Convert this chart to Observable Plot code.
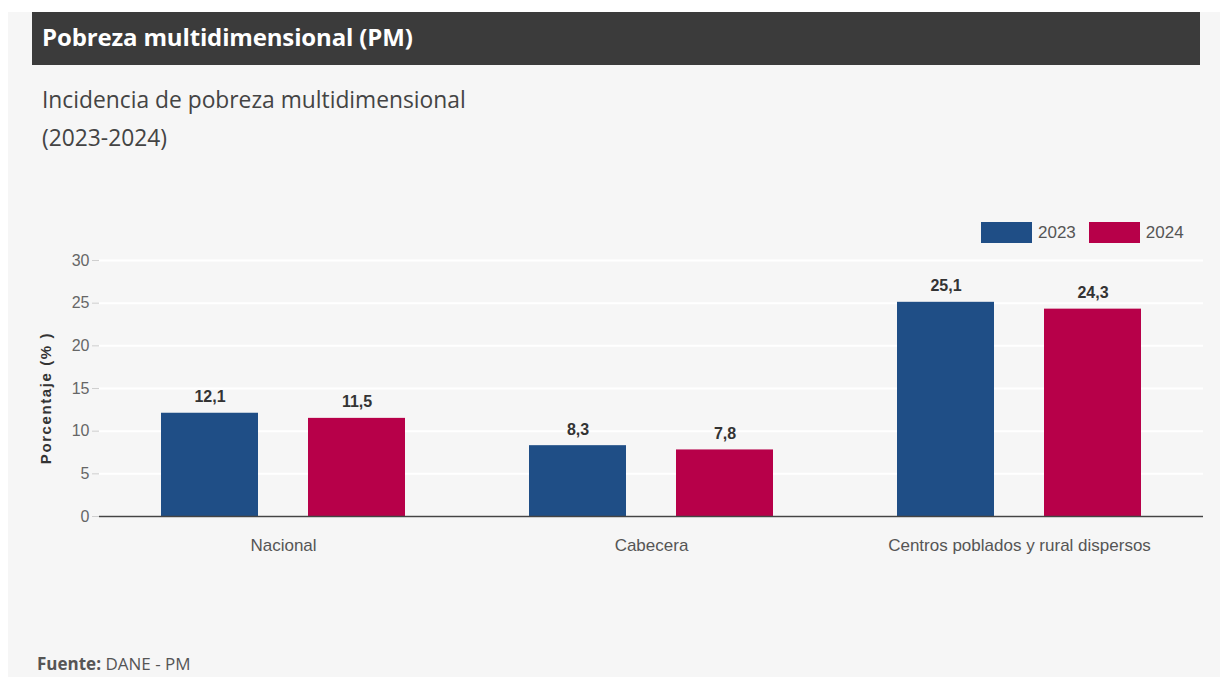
<!DOCTYPE html>
<html>
<head>
<meta charset="utf-8">
<script src="https://cdn.jsdelivr.net/npm/d3@7"></script>
<script src="https://cdn.jsdelivr.net/npm/@observablehq/plot@0.6"></script>
<style>
  html, body { margin: 0; padding: 0; width: 1220px; height: 677px; overflow: hidden; background: #ffffff; }
  #panel { position: absolute; left: 8px; top: 12px; width: 1212px; height: 665px; background: #f6f6f6; }
  #header { position: absolute; left: 32px; top: 12px; width: 1168px; height: 53px; background: #3b3b3b; }
  #title { position: absolute; left: 42px; top: 22px; font-family: "Open Sans", sans-serif; font-weight: 700; font-size: 24px; color: #ffffff; line-height: 30px; white-space: nowrap; letter-spacing: -0.15px; }
  #subtitle { position: absolute; left: 42px; top: 81px; font-family: "Open Sans", sans-serif; font-size: 22.8px; color: #444; line-height: 38px; letter-spacing: 0px; }
  #legend { position: absolute; left: 981px; top: 222px; font-family: "Liberation Sans", Arial, sans-serif; font-size: 17px; color: #555; display: flex; align-items: center; }
  .sw { width: 51px; height: 21px; display: inline-block; margin-right: 6px; }
  .lt { margin-right: 13px; }
  #ylabel { position: absolute; left: 45px; top: 398px; transform: translate(-50%, -50%) rotate(-90deg); font-family: "Liberation Sans", Arial, sans-serif; font-weight: 700; font-size: 15px; letter-spacing: 1.6px; color: #333; white-space: nowrap; }
  #chart { position: absolute; left: 0px; top: 250px; }
  #source { position: absolute; left: 37px; top: 654px; font-family: "Open Sans", sans-serif; font-size: 17px; color: #555; line-height: 20px; letter-spacing: 0px; }
</style>
</head>
<body>
<div id="panel"></div>
<div id="header"></div>
<div id="title">Pobreza multidimensional (PM)</div>
<div id="subtitle">Incidencia de pobreza multidimensional<br>(2023-2024)</div>
<div id="legend"></div>
<div id="ylabel">Porcentaje (% )</div>
<div id="chart"></div>
<div id="source"><b>Fuente:</b> DANE - PM</div>
<script>
const categories = ["Nacional", "Cabecera", "Centros poblados y rural dispersos"];
const years = ["2023", "2024"];
const values2023 = [12.1, 8.3, 25.1];
const values2024 = [11.5, 7.8, 24.3];
const yTicks = [0, 5, 10, 15, 20, 25, 30];
const colors = ["#1f4e86", "#b70049"];

const data = categories.flatMap((c, i) => [
  {cat: c, year: years[0], value: values2023[i]},
  {cat: c, year: years[1], value: values2024[i]}
]);

const font = '"Liberation Sans", Arial, sans-serif';

const legend = document.getElementById("legend");
years.forEach((y, i) => {
  const sw = document.createElement("span");
  sw.className = "sw"; sw.style.background = colors[i];
  const t = document.createElement("span");
  t.className = "lt"; t.textContent = y;
  legend.appendChild(sw); legend.appendChild(t);
});

const chart = Plot.plot({
  width: 1220,
  height: 310,
  marginLeft: 98,
  marginRight: 17,
  marginTop: 10,
  marginBottom: 44,
  style: {background: "transparent", fontFamily: font, fontSize: "16px", overflow: "visible"},
  fx: {domain: categories, padding: 0, label: null, axis: null},
  x: {domain: years, paddingInner: 50 / 147, paddingOuter: 0.42, axis: null},
  y: {domain: [0, 30], label: null, axis: null},
  color: {domain: years, range: colors},
  marks: [
    Plot.gridY(yTicks, {stroke: "#ffffff", strokeOpacity: 1, strokeWidth: 2}),
    Plot.axisY(yTicks, {tickSize: 7, stroke: "#cfcfcf", tickPadding: 3, fill: "#666", label: null, tickFormat: d => d, fontSize: 16}),
    Plot.barY(data, {fx: "cat", x: "year", y: "value", fill: "year"}),
    Plot.text(data, {fx: "cat", x: "year", y: "value", text: d => d.value.toFixed(1).replace(".", ","), dy: -16, fontWeight: "bold", fill: "#333", fontSize: 16}),
    Plot.ruleY([0], {stroke: "#444", strokeWidth: 1.5}),
    Plot.axisFx({anchor: "bottom", tickSize: 0, tickPadding: 22, label: null, fontSize: 17, fill: "#555"})
  ]
});
document.getElementById("chart").appendChild(chart);
</script>
</body>
</html>
